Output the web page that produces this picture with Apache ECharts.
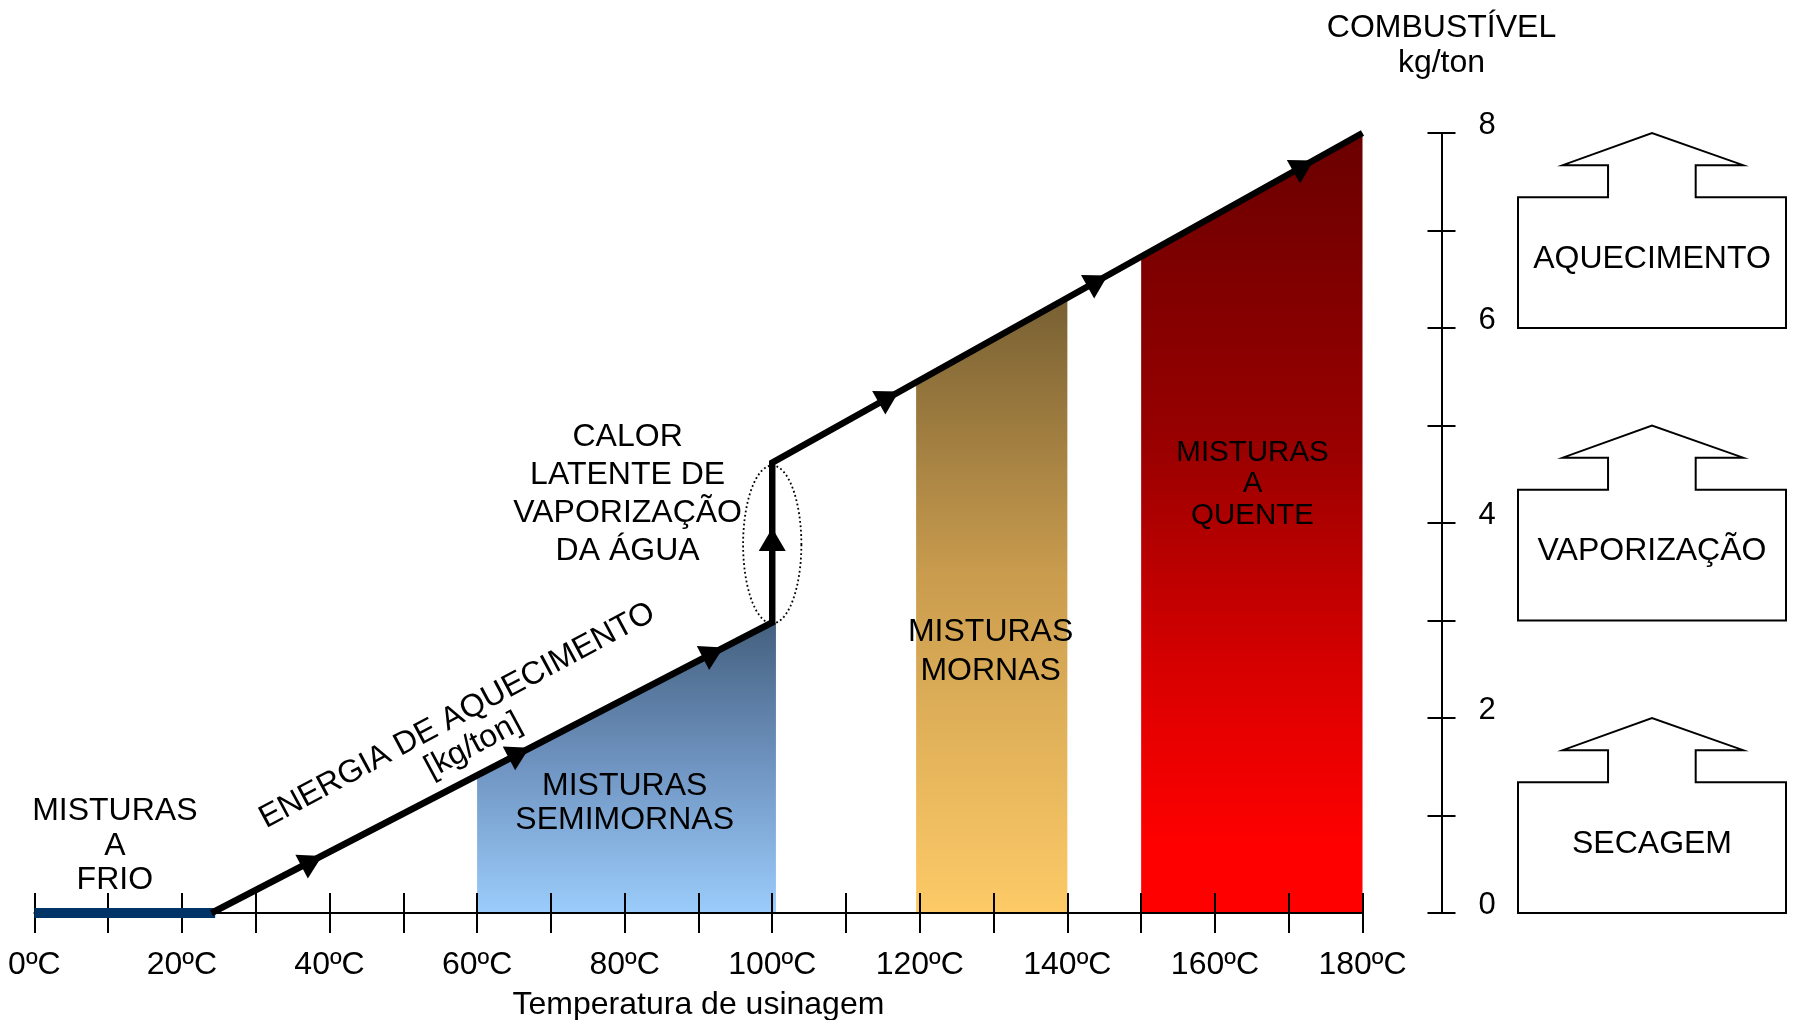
<!DOCTYPE html>
<html><head><meta charset="utf-8">
<script src="https://cdn.jsdelivr.net/npm/echarts@6.0.0/dist/echarts.min.js"></script>
<style>html,body{margin:0;padding:0;background:#fff}#c{width:1797px;height:1020px}</style>
</head><body><div id="c"></div>
<script>
// ---------- data ----------
const tempMin = 0, tempMax = 180, tempStep = 10;      // °C axis
const fuelMin = 0, fuelMax = 8, fuelStep = 1;         // kg/ton axis
const pathX = [24, 100, 100, 180];                    // heating path
const pathY = [0, 2.98, 4.62, 8];
const frioX = [0, 24.5];
const frioY = [0, 0];
const semiX = [60, 100.5];
const semiY = [1.41, 2.98];
const mornasX = [119.5, 140];
const mornasY = [5.44, 6.31];
const quenteX = [150, 180];
const quenteY = [6.73, 8];
const arrowX = [37.6, 65.7, 92, 100, 115.8, 144.1, 172];
const arrowY = [0.53, 1.64, 2.67, 3.83, 5.29, 6.48, 7.66];
const arrowTo = [1, 1, 1, 2, 3, 3, 3];                 // path vertex each arrow points to
const ellipseC = [100, 3.78];                          // dotted ellipse centre
const ellipseR = [3.95, 0.81];                         // radii (°C, kg/ton)
const noteText = ['MISTURAS\nA\nFRIO', 'MISTURAS\nSEMIMORNAS', 'MISTURAS\nMORNAS', 'MISTURAS\nA\nQUENTE', 'CALOR\nLATENTE DE\nVAPORIZAÇÃO\nDA ÁGUA'];
const noteX = [10.9, 80, 129.6, 165.1, 80.4];
const noteY = [0.69, 1.125, 2.68, 4.40, 4.295];
const energyText = 'ENERGIA DE AQUECIMENTO\n[kg/ton]';
const energyX = 58.4, energyY = 1.87;
const boxText = ['AQUECIMENTO', 'VAPORIZAÇÃO', 'SECAGEM'];
const boxBase = [6, 3, 0];
const xTickLabel = v => (v % 20 === 0 ? v + 'ºC' : '');
const yTickLabel = v => (v % 2 === 0 ? String(v) : '');

// ---------- styles ----------
const FONT = '"Liberation Sans", Arial, Helvetica, sans-serif';
const noteSize = [32, 32, 32, 29.5, 32];
const noteLH = [34.5, 34.5, 39, 31.5, 38];

const chart = echarts.init(document.getElementById('c'), null, {renderer: 'canvas'});

function grad(stops) {
  return {type: 'linear', x: 0, y: 0, x2: 0, y2: 1,
    colorStops: stops.map(s => ({offset: s[0], color: s[1]}))};
}
function areaSeries(xs, ys, stops) {
  return {type: 'line', xAxisIndex: 0, yAxisIndex: 0, z: 1, symbol: 'none', silent: true,
    data: xs.map((x, i) => [x, ys[i]]),
    lineStyle: {width: 0, opacity: 0},
    areaStyle: {color: grad(stops), opacity: 1}};
}

const option = {
  animation: false,
  backgroundColor: '#fff',
  textStyle: {fontFamily: FONT},
  grid: [
    {left: 34.4, right: 434.5, top: 133, bottom: 107, containLabel: false, outerBoundsMode: 'none'},
    {left: 1518, right: 11, top: 133, bottom: 107, containLabel: false, outerBoundsMode: 'none'}
  ],
  xAxis: [
    {type: 'value', gridIndex: 0, min: tempMin, max: tempMax, interval: tempStep, position: 'bottom', z: 5,
      axisLine: {onZero: false, lineStyle: {color: '#000', width: 2}},
      axisTick: {inside: false, length: 20, lineStyle: {color: '#000', width: 2}},
      axisLabel: {formatter: xTickLabel, margin: 36, fontSize: 32, color: '#000', fontFamily: FONT},
      splitLine: {show: false},
      name: 'Temperatura de usinagem', nameLocation: 'middle', nameGap: 76,
      nameTextStyle: {fontSize: 32, color: '#000', fontFamily: FONT}},
    {type: 'value', gridIndex: 0, min: tempMin, max: tempMax, interval: tempStep, position: 'bottom', z: 5,
      axisLine: {show: false, onZero: false},
      axisTick: {inside: true, length: 20, lineStyle: {color: '#000', width: 2}},
      axisLabel: {show: false}, splitLine: {show: false}},
    {type: 'value', gridIndex: 1, min: 0, max: 1, show: false}
  ],
  yAxis: [
    {type: 'value', gridIndex: 0, min: fuelMin, max: fuelMax, interval: fuelStep, position: 'right', offset: 79, z: 5,
      axisLine: {show: true, onZero: false, lineStyle: {color: '#000', width: 2}},
      axisTick: {show: true, inside: false, length: 14, lineStyle: {color: '#000', width: 2}},
      axisLabel: {formatter: yTickLabel, margin: 37, fontSize: 31, color: '#000', fontFamily: FONT,
        verticalAlign: 'bottom', lineHeight: 16},
      splitLine: {show: false},
      name: 'COMBUSTÍVEL\nkg/ton', nameLocation: 'end', nameGap: 52,
      nameTextStyle: {fontSize: 32, lineHeight: 35, color: '#000', fontFamily: FONT, align: 'center'}},
    {type: 'value', gridIndex: 0, min: fuelMin, max: fuelMax, interval: fuelStep, position: 'right', offset: 79, z: 5,
      axisLine: {show: false, onZero: false},
      axisTick: {show: true, inside: true, length: 14, lineStyle: {color: '#000', width: 2}},
      axisLabel: {show: false}, splitLine: {show: false}},
    {type: 'value', gridIndex: 1, min: fuelMin, max: fuelMax, show: false}
  ],
  series: [
    areaSeries(semiX, semiY, [[0, '#44607F'], [0.5, '#7095C2'], [1, '#9BCCFB']]),
    areaSeries(mornasX, mornasY, [[0, '#786033'], [0.45, '#C99C4E'], [1, '#FDCA67']]),
    areaSeries(quenteX, quenteY, [[0, '#6A0000'], [0.4, '#990000'], [0.75, '#E40000'], [0.92, '#FF0000'], [1, '#FF0000']]),
    {type: 'line', xAxisIndex: 0, yAxisIndex: 0, z: 10, symbol: 'none', silent: true,
      data: frioX.map((x, i) => [x, frioY[i]]),
      lineStyle: {color: '#003366', width: 10, cap: 'butt'}},
    {type: 'line', xAxisIndex: 0, yAxisIndex: 0, z: 11, symbol: 'none', silent: true,
      data: pathX.map((x, i) => [x, pathY[i]]),
      lineStyle: {color: '#000', width: 6.5, join: 'miter', cap: 'butt'}},
    // arrowheads
    {type: 'custom', xAxisIndex: 0, yAxisIndex: 0, z: 12, silent: true,
      data: arrowX.map((x, i) => [x, arrowY[i], pathX[arrowTo[i]], pathY[arrowTo[i]]]),
      renderItem: function (params, api) {
        const p = api.coord([api.value(0), api.value(1)]);
        const t = api.coord([api.value(2), api.value(3)]);
        const a = Math.atan2(t[1] - p[1], t[0] - p[0]);
        const L = 23, W = 27;
        const dx = Math.cos(a), dy = Math.sin(a), nx = -dy, ny = dx;
        const tip = [p[0] + dx * L / 2, p[1] + dy * L / 2];
        const b = [p[0] - dx * L / 2, p[1] - dy * L / 2];
        return {type: 'polygon', shape: {points: [tip, [b[0] + nx * W / 2, b[1] + ny * W / 2], [b[0] - nx * W / 2, b[1] - ny * W / 2]]},
          style: {fill: '#000'}};
      }},
    // dotted ellipse
    {type: 'custom', xAxisIndex: 0, yAxisIndex: 0, z: 12, silent: true,
      data: [[ellipseC[0], ellipseC[1], ellipseR[0], ellipseR[1]]],
      renderItem: function (params, api) {
        const c = api.coord([api.value(0), api.value(1)]);
        const sz = api.size([api.value(2), api.value(3)]);
        const pts = [];
        for (let k = 0; k < 120; k++) {
          const th = k / 120 * Math.PI * 2;
          pts.push([c[0] + sz[0] * Math.cos(th), c[1] + sz[1] * Math.sin(th)]);
        }
        return {type: 'polygon', shape: {points: pts},
          style: {fill: 'none', stroke: '#000', lineWidth: 1.8, lineDash: [1.8, 2.6]}};
      }},
    // notes
    {type: 'custom', xAxisIndex: 0, yAxisIndex: 0, z: 13, silent: true,
      data: noteX.map((x, i) => [x, noteY[i]]),
      renderItem: function (params, api) {
        const i = params.dataIndex;
        const p = api.coord([api.value(0), api.value(1)]);
        return {type: 'text', x: p[0], y: p[1],
          style: {text: noteText[i], fill: '#000', fontSize: noteSize[i], fontFamily: FONT,
            align: 'center', verticalAlign: 'middle', lineHeight: noteLH[i]}};
      }},
    // energy label along the path
    {type: 'custom', xAxisIndex: 0, yAxisIndex: 0, z: 13, silent: true,
      data: [[energyX, energyY]],
      renderItem: function (params, api) {
        const p = api.coord([api.value(0), api.value(1)]);
        const a = api.coord([pathX[0], pathY[0]]);
        const b = api.coord([pathX[1], pathY[1]]);
        const rot = -Math.atan2(b[1] - a[1], b[0] - a[0]) + 0.015;
        return {type: 'text', x: p[0], y: p[1], rotation: rot,
          style: {text: energyText, fill: '#000', fontSize: 32, fontFamily: FONT,
            align: 'center', verticalAlign: 'middle', lineHeight: 34}};
      }},
    // right side boxes
    {type: 'custom', xAxisIndex: 2, yAxisIndex: 2, z: 5, silent: true,
      data: boxBase.map(b => [b]),
      renderItem: function (params, api) {
        const i = params.dataIndex;
        const b = api.value(0);
        const shape = [[0, 0], [0, 1.34], [0.336, 1.34], [0.336, 1.67], [0.167, 1.67], [0.5, 2],
          [0.84, 1.67], [0.663, 1.67], [0.663, 1.34], [1, 1.34], [1, 0]];
        const pts = shape.map(s => api.coord([s[0], b + s[1]]));
        const c = api.coord([0.5, b + 0.71]);
        return {type: 'group', children: [
          {type: 'polygon', shape: {points: pts}, style: {fill: '#fff', stroke: '#000', lineWidth: 2}},
          {type: 'text', x: c[0], y: c[1], style: {text: boxText[i], fill: '#000', fontSize: 32,
            fontFamily: FONT, align: 'center', verticalAlign: 'middle'}}
        ]};
      }}
  ]
};
chart.setOption(option);
</script>
</body></html>
